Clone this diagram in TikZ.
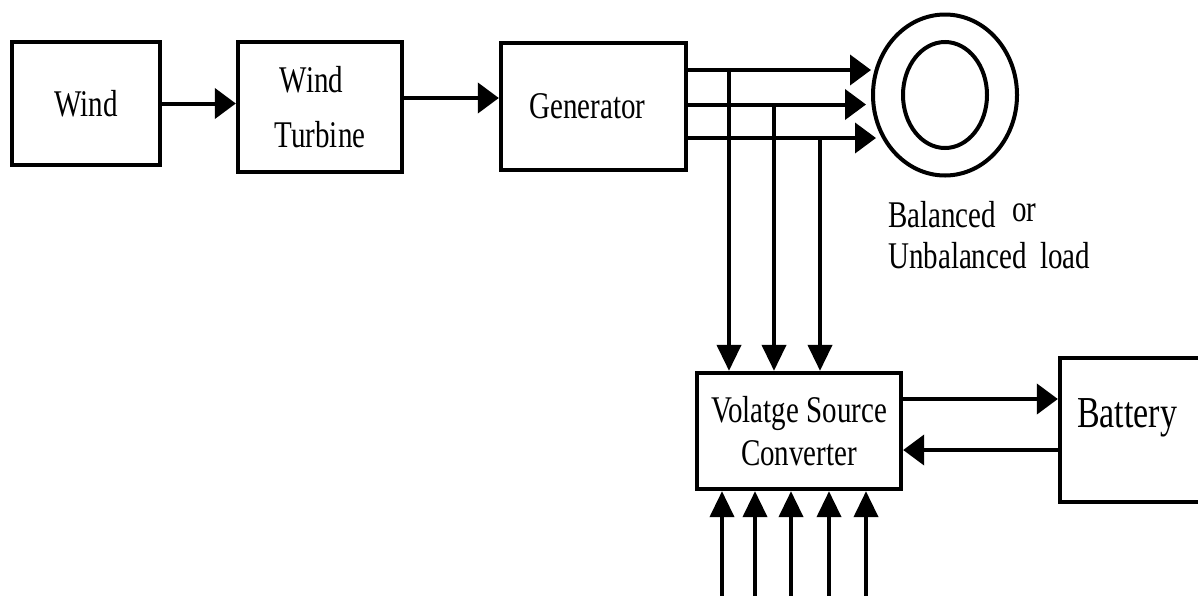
\documentclass[tikz,border=0pt]{standalone}
\usepackage{fontspec}
\setmainfont{Liberation Serif}
\usetikzlibrary{arrows.meta,calc,shapes.geometric}
\newcommand{\vs}[1]{\scalebox{1}[1.3]{#1}}
\begin{document}
\begin{tikzpicture}[x=1pt,y=-1pt,
  box/.style={draw,line width=4.3pt,rectangle,inner sep=0pt,align=center,
    font=\fontsize{29}{55}\selectfont},
  lbl/.style={inner sep=0pt,font=\fontsize{29}{35}\selectfont},
  wire/.style={line width=4pt},
  harrow/.style={wire,-{Triangle[length=21pt,width=30pt]}},
  varrow/.style={wire,-{Triangle[length=26pt,width=24pt]}}]
\useasboundingbox (0,0) rectangle (1198,595);
\begin{scope}
\clip (0,0) rectangle (1198,595);
% boxes
\node[box,minimum width=148pt,minimum height=123pt] (wind) at (86,103.5) {\vs{Wind}};
\node[box,minimum width=164pt,minimum height=130pt] (turb) at (320,107) {\vs{Wind}\hspace*{17pt}\\\vs{Turbine}};
\node[box,minimum width=185pt,minimum height=127pt] (gen) at (593.5,106.5) {\vs{Generator}\hspace*{12pt}};
\node[box,minimum width=204pt,minimum height=116pt,font=\fontsize{29}{43}\selectfont] (vsc) at (799,431) {\vs{Volatge Source}\\\vs{Converter}};
\node[box,minimum width=160pt,minimum height=144pt] (bat) at (1140,430) {};
\node[anchor=base west,inner sep=0pt,font=\fontsize{34}{40}\selectfont] (battxt) at (1077,427) {\vs{Battery}};
% load
\node[draw,ellipse,line width=4pt,minimum width=144pt,minimum height=161pt,inner sep=0pt] (load) at (945,95) {};
\node[draw,ellipse,line width=4pt,minimum width=84pt,minimum height=106pt,inner sep=0pt] (loadin) at (945,95) {};
\node[lbl,anchor=base west] (bal) at (888,227) {\vs{Balanced}};
\node[lbl,anchor=base west] (or) at (1012,221) {\vs{or}};
\node[lbl,anchor=base west] (unb) at (888,268) {\vs{Unbalanced}};
\node[lbl,anchor=base west] (ld) at (1040,268) {\vs{load}};
% chain
\draw[harrow] (wind.east) -- (wind.east -| turb.west);
\draw[harrow] ([yshift=9pt]turb.east) -- ([yshift=9pt]turb.east -| gen.west);
% generator to load
\coordinate (g1) at ([yshift=36.5pt]gen.east);
\coordinate (g2) at ([yshift=2pt]gen.east);
\coordinate (g3) at ([yshift=-31.5pt]gen.east);
\draw[harrow] (g1) -- (g1 -| load.west);
\draw[harrow] (g2) -- ([xshift=-5pt]g2 -| load.west);
\draw[harrow] (g3) -- ([xshift=5pt]g3 -| load.west);
% generator lines to converter
\draw[varrow] ([xshift=-70pt]vsc.north |- g1) -- ([xshift=-70pt]vsc.north);
\draw[varrow] ([xshift=-25pt]vsc.north |- g2) -- ([xshift=-25pt]vsc.north);
\draw[varrow] ([xshift=21pt]vsc.north |- g3) -- ([xshift=21pt]vsc.north);
% converter <-> battery
\draw[harrow] ([yshift=32pt]vsc.east) -- ([yshift=32pt]vsc.east -| bat.west);
\draw[harrow] ([yshift=-19pt]vsc.east -| bat.west) -- ([yshift=-19pt]vsc.east);
% bottom inputs
\foreach \dx/\n in {-77/a,-44/b,-8/c,30/d,67/e}{
  \coordinate (in\n) at ([xshift=\dx pt]vsc.south |- 0,600);
  \draw[varrow] (in\n) -- ([xshift=\dx pt]vsc.south);
}
\end{scope}
\end{tikzpicture}
\end{document}
